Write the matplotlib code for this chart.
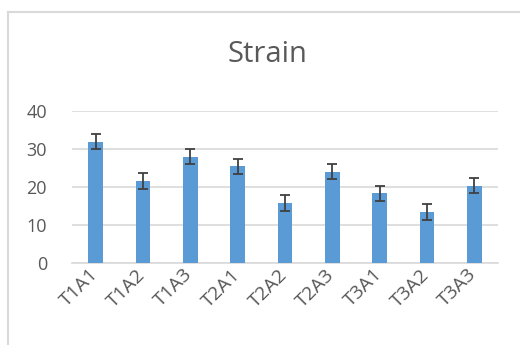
import matplotlib
matplotlib.use('Agg')
import matplotlib.pyplot as plt
from matplotlib.lines import Line2D
from matplotlib.transforms import ScaledTranslation

labels = ['T1A1', 'T1A2', 'T1A3', 'T2A1', 'T2A2', 'T2A3', 'T3A1', 'T3A2', 'T3A3']
strain = [31.8, 21.5, 27.9, 25.4, 15.6, 24.0, 18.3, 13.3, 20.3]
err = [2.0, 2.0, 2.0, 2.0, 2.1, 2.1, 2.0, 2.1, 2.0]

plt.rcParams['font.family'] = ['Open Sans', 'DejaVu Sans']
txt = '#595959'

fig = plt.figure(figsize=(5.2, 3.45), dpi=100)
ax = fig.add_axes([72/520, 1 - 262.7/345, 426/520, 152/345])

x = range(len(labels))
ax.bar(x, strain, width=0.31, color='#5b9bd5', zorder=3)
ax.errorbar(x, strain, yerr=err, fmt='none', ecolor='#404040',
            elinewidth=1.3, capsize=3.5, capthick=1.3, zorder=4)

ax.set_xlim(-0.5, len(labels) - 0.5)
ax.set_ylim(0, 40)
ax.set_yticks([0, 10, 20, 30, 40])
ax.yaxis.grid(True, color='#d9d9d9', linewidth=1.2, zorder=0)
for s in ['top', 'right', 'left']:
    ax.spines[s].set_visible(False)
ax.spines['bottom'].set_color('#d9d9d9')
ax.spines['bottom'].set_linewidth(1.2)
ax.tick_params(length=0, labelsize=13, colors=txt)
ax.tick_params(axis='y', pad=18)
ax.tick_params(axis='x', pad=2, labelsize=14)
ax.set_xticks(list(x))
ax.set_xticklabels(labels, rotation=45, ha='right', rotation_mode='anchor')
shift = ScaledTranslation(-7/100, 0, fig.dpi_scale_trans)
for t in ax.get_xticklabels():
    t.set_transform(t.get_transform() + shift)

fig.text(267/520, 1 - 55/345, 'Strain', ha='center', va='center',
         fontsize=21, color=txt)

# chart frame
fig.add_artist(Line2D([8/520, 8/520], [0, 1 - 11.5/345], transform=fig.transFigure,
                      color='#d9d9d9', linewidth=1.5))
fig.add_artist(Line2D([8/520, 1], [1 - 11.5/345, 1 - 11.5/345], transform=fig.transFigure,
                      color='#d9d9d9', linewidth=1.5))

fig.savefig('out.png', dpi=100)
